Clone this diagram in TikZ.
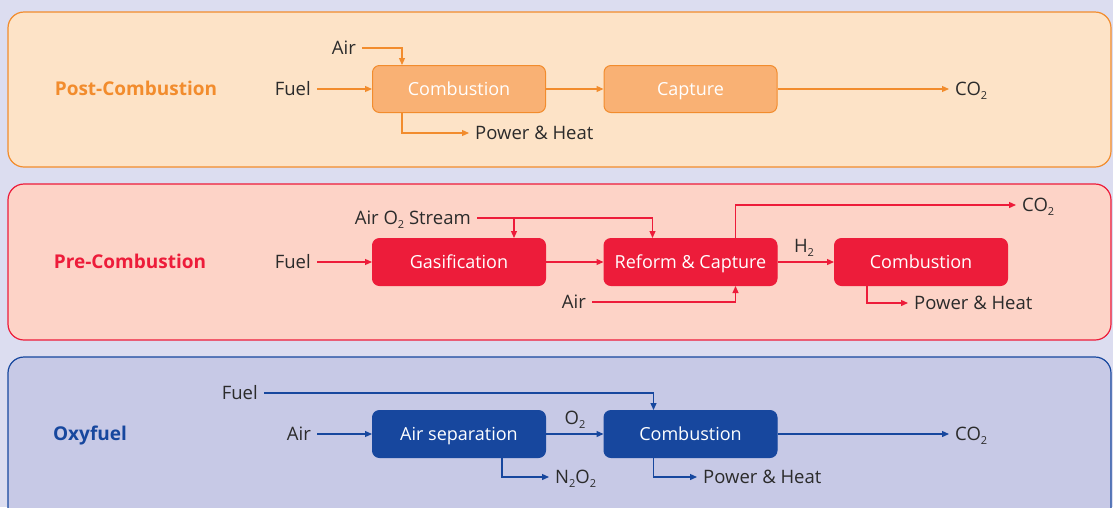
\documentclass[tikz,border=0pt]{standalone}
\usepackage{fontspec}
\setmainfont{Open Sans}
\usetikzlibrary{arrows.meta,calc}

\definecolor{bgcol}{HTML}{DCDDF0}
\definecolor{postline}{HTML}{F28C2D}
\definecolor{postfill}{HTML}{FDE3C7}
\definecolor{postbox}{HTML}{F9B174}
\definecolor{preline}{HTML}{ED1C3A}
\definecolor{prefill}{HTML}{FDD3C7}
\definecolor{oxyline}{HTML}{17479E}
\definecolor{oxyfill}{HTML}{C7C9E6}
\definecolor{txt}{HTML}{2B2B2B}

% small lowered subscript
\newcommand{\lowsub}[1]{\raisebox{-0.45ex}{\fontsize{11}{11}\selectfont #1}}

\tikzset{
  panel/.style={draw=#1, line width=1.2pt, rounded corners=16pt},
  procbox/.style={draw=#1, line width=1pt, rounded corners=7pt, minimum width=173pt, minimum height=47pt,
    inner sep=0pt, text=white, text height=13pt, text depth=0pt, font=\fontsize{18}{20}\selectfont},
  lbl/.style={text=txt, inner xsep=6pt, inner ysep=0pt, text height=13pt, text depth=0pt,
    font=\fontsize{18.5}{21}\selectfont},
  heading/.style={text=#1, inner sep=0pt, text height=13.5pt, text depth=0pt, font=\fontsize{19}{21}\selectfont\bfseries},
  flow/.style={draw=#1, line width=1.2pt, -{Triangle[length=7pt,width=6pt]}},
}

\begin{document}
\begin{tikzpicture}[x=1pt,y=-1pt]
    % Background and panels
    \fill[bgcol] (0,0) rectangle (1113,507);
    \useasboundingbox (0,0) rectangle (1113,507);
    \begin{scope}
        \clip (0,0) rectangle (1113,507);
        \draw[panel=postline, fill=postfill] (8,12) rectangle (1111,167);
        \draw[panel=preline, fill=prefill] (8,184) rectangle (1111,340);
        \draw[panel=oxyline, fill=oxyfill] (8,357) rectangle (1111,540);
    \end{scope}

    % Post-Combustion
    \node[heading=postline] (postT) at (136,89) {Post-Combustion};
    \node[procbox=postline, fill=postbox] (combA) at (459,89) {Combustion};
    \node[procbox=postline, fill=postbox] (captA) at (690.5,89) {Capture};
    \node[lbl, anchor=east] (fuelA) at (317,89) {Fuel};
    \node[lbl, anchor=east] (airA) at (362,48) {Air};
    \node[lbl, anchor=west] (powA) at (469,133) {Power \& Heat};
    \node[lbl, anchor=west] (co2A) at (949,89) {CO\lowsub{2}};
    \draw[flow=postline] (fuelA) -- (combA);
    \draw[flow=postline] (airA) -| ($(combA.north west)+(30,0)$);
    \draw[flow=postline] ($(combA.south west)+(30,0)$) |- (powA);
    \draw[flow=postline] (combA) -- (captA);
    \draw[flow=postline] (captA) -- (co2A);

    % Pre-Combustion
    \node[heading=preline] (preT) at (130,262) {Pre-Combustion};
    \node[procbox=preline, fill=preline] (gasB) at (459,262) {Gasification};
    \node[procbox=preline, fill=preline] (refB) at (690.5,262) {Reform \& Capture};
    \node[procbox=preline, fill=preline] (combB) at (921,262) {Combustion};
    \node[lbl, anchor=east] (fuelB) at (317,262) {Fuel};
    \node[lbl, anchor=east] (airoB) at (477,218) {Air O\lowsub{2} Stream};
    \coordinate (splitB) at (514,218);
    \node[lbl] (h2B) at (804,246) {H\lowsub{2}};
    \node[lbl, anchor=west] (co2B) at (1016,205) {CO\lowsub{2}};
    \node[lbl, anchor=east] (airB) at (592,302) {Air};
    \node[lbl, anchor=west] (powB) at (908,303) {Power \& Heat};
    \draw[flow=preline] (fuelB) -- (gasB);
    \draw[flow=preline] (airoB) -| ($(refB.north west)+(49,0)$);
    \draw[flow=preline] (splitB) -- (splitB |- gasB.north);
    \draw[flow=preline] (gasB) -- (refB);
    \draw[flow=preline] (refB) -- (combB);
    \draw[flow=preline] ($(refB.north west)+(132,0)$) |- (co2B);
    \draw[flow=preline] (airB) -| ($(refB.south west)+(132,0)$);
    \draw[flow=preline] ($(combB.south west)+(33,0)$) |- (powB);

    % Oxyfuel
    \node[heading=oxyline] (oxyT) at (90,434) {Oxyfuel};
    \node[procbox=oxyline, fill=oxyline] (sepC) at (459,434) {Air separation};
    \node[procbox=oxyline, fill=oxyline] (combC) at (690.5,434) {Combustion};
    \node[lbl, anchor=east] (fuelC) at (264,393) {Fuel};
    \node[lbl, anchor=east] (airC) at (317,434) {Air};
    \node[lbl] (o2C) at (575,418) {O\lowsub{2}};
    \node[lbl, anchor=west] (n2C) at (549,477) {N\lowsub{2}O\lowsub{2}};
    \node[lbl, anchor=west] (powC) at (697,477) {Power \& Heat};
    \node[lbl, anchor=west] (co2C) at (949,434) {CO\lowsub{2}};
    \draw[flow=oxyline] (fuelC) -| ($(combC.north west)+(50,0)$);
    \draw[flow=oxyline] (airC) -- (sepC);
    \draw[flow=oxyline] (sepC) -- (combC);
    \draw[flow=oxyline] ($(sepC.south west)+(130,0)$) |- (n2C);
    \draw[flow=oxyline] ($(combC.south west)+(50,0)$) |- (powC);
    \draw[flow=oxyline] (combC) -- (co2C);
\end{tikzpicture}
\end{document}
